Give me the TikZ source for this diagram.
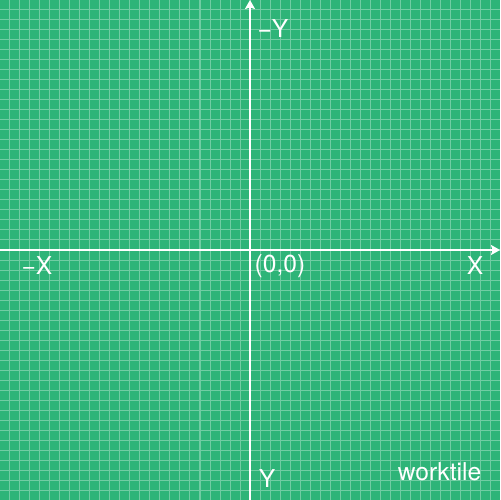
\documentclass[tikz,border=0pt]{standalone}
\usepackage{fontspec}
\setmainfont{TeX Gyre Heros}
\usepackage{tikz}
\usetikzlibrary{arrows.meta,positioning}

\definecolor{tilegreen}{RGB}{46,180,120}

\begin{document}
\begin{tikzpicture}[
      gridline/.style={
        draw=white, opacity=0.32,
        line width=0.05cm
      },
      axis/.style={
        draw=white, line width=0.1cm,
        -{Stealth[length=0.45cm,width=0.5cm,inset=0.08cm]}
      },
      label/.style={
        text=white, inner sep=0pt,
        font=\fontsize{35}{42}\selectfont
      }
    ]
      \useasboundingbox (-12.5,-12.5) rectangle (12.5,12.5);
      \fill[tilegreen] (-12.5,-12.5) rectangle (12.5,12.5);
      \draw[gridline] (-12.5,-12.5) grid[step=0.5cm] (12.5,12.5);
      % axes
      \coordinate (xstart) at (-12.5,0);
      \coordinate (xend) at (12.5,0);
      \coordinate (ystart) at (0,-12.5);
      \coordinate (yend) at (0,12.5);
      \draw[axis] (xstart) -- (xend);
      \draw[axis] (ystart) -- (yend);
      % labels
      \node[label] (origin) at (1.5,-0.8) {(0,0)};
      \node[label] (xpos) at (11.25,-0.8) {X};
      \node[label] (xneg) at (-10.65,-0.8) {−X};
      \node[label] (yneg) at (1.15,11.08) {−Y};
      \node[label] (ypos) at (0.85,-11.45) {Y};
      \node[label] (brand) at (9.48,-11.1) {worktile};
    \end{tikzpicture}
\end{document}
